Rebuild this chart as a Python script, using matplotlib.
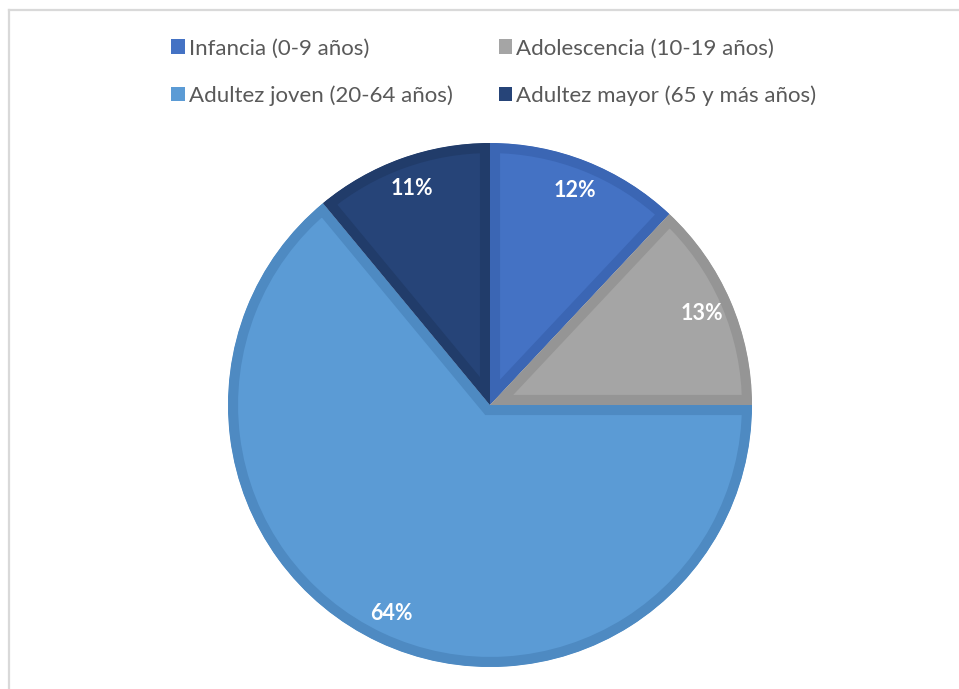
import matplotlib
matplotlib.use("Agg")
import matplotlib.pyplot as plt
from matplotlib.patches import Patch
from matplotlib.lines import Line2D

# Distribución de la población por grupo de edad (%)
grupos = ["Infancia (0-9 años)", "Adolescencia (10-19 años)",
          "Adultez joven (20-64 años)", "Adultez mayor (65 y más años)"]
porcentajes = [12, 13, 64, 11]
colores = ["#4472C4", "#A5A5A5", "#5B9BD5", "#264478"]
bordes = ["#3B66B4", "#959595", "#4E8AC2", "#213C6A"]

W, H = 959, 689
fig = plt.figure(figsize=(W / 100, H / 100), dpi=100)
fig.patch.set_facecolor("white")

# marco gris claro (solo se ve el borde izquierdo y el superior)
fig.add_artist(Line2D([8.5 / W, 8.5 / W], [0, 1 - 9.5 / H], color="#D9D9D9", lw=1.6))
fig.add_artist(Line2D([8.5 / W, 1], [1 - 9.5 / H, 1 - 9.5 / H], color="#D9D9D9", lw=1.6))

cx, cy, r = 490, 405, 262
ax = fig.add_axes([(cx - r) / W, (H - cy - r) / H, 2 * r / W, 2 * r / H])

wedges, _, autotexts = ax.pie(
    porcentajes, colors=colores, startangle=90, counterclock=False,
    autopct="%.0f%%", pctdistance=0.88, radius=1,
    textprops=dict(color="white", fontsize=15.5, fontweight="bold", family="Lato"))

# borde interior: trazo doble recortado por la propia cuña
for w, b in zip(wedges, bordes):
    w.set_edgecolor(b)
    w.set_linewidth(14.5)
    w.set_clip_on(True)
    w.set_clip_path(w.get_path(), w.get_transform())

ax.set_xlim(-1, 1)
ax.set_ylim(-1, 1)
ax.set_aspect("equal")
ax.axis("off")

handles = [Patch(facecolor=c, edgecolor="none") for c in colores]
orden = [0, 2, 1, 3]
fig.legend([handles[i] for i in orden], [grupos[i] for i in orden],
           ncol=2, loc="center", bbox_to_anchor=(494 / W, 1 - 72 / H),
           frameon=False, labelcolor="#595959",
           prop=dict(family="Lato", size=16),
           handlelength=0.6, handleheight=0.6, handletextpad=0.2,
           columnspacing=2.05, labelspacing=1.2)

fig.savefig("out.png", dpi=100, facecolor="white")
